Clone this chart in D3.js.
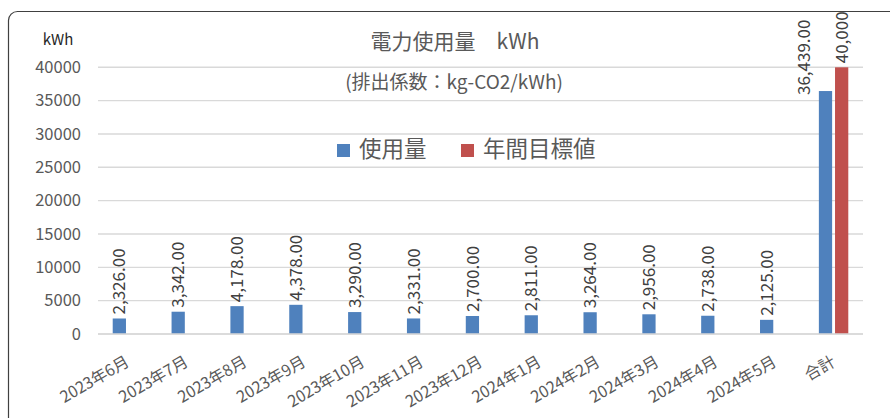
<!DOCTYPE html>
<html>
<head>
<meta charset="utf-8">
<script src="https://cdn.jsdelivr.net/npm/d3@7"></script>
<style>
  html, body { margin: 0; padding: 0; background: #fff; }
  svg { display: block; }
  text { font-family: "Noto Sans CJK JP", "Noto Sans", sans-serif; }
</style>
</head>
<body>
<script>
const categories = ["2023年6月", "2023年7月", "2023年8月", "2023年9月", "2023年10月", "2023年11月",
  "2023年12月", "2024年1月", "2024年2月", "2024年3月", "2024年4月", "2024年5月", "合計"];
const usage = [2326, 3342, 4178, 4378, 3290, 2331, 2700, 2811, 3264, 2956, 2738, 2125, 36439];
const target = [null, null, null, null, null, null, null, null, null, null, null, null, 40000];
const seriesNames = ["使用量", "年間目標値"];
const yTicks = [0, 5000, 10000, 15000, 20000, 25000, 30000, 35000, 40000];
const titleText = "電力使用量\u3000kWh";
const subtitleText = "(排出係数：kg-CO2/kWh)";
const unitText = "kWh";

const W = 890, H = 418;
const colors = ["#4f81bd", "#c0504d"];
const plot = { left: 98, right: 863, top: 67.3, bottom: 334 };
const FONT = "Noto Sans CJK JP, Noto Sans, sans-serif";

const svg = d3.select("body").append("svg").attr("width", W).attr("height", H);

// outer frame
svg.append("rect")
  .attr("x", 8.5).attr("y", 11.5).attr("width", 900).attr("height", 430)
  .attr("rx", 9).attr("ry", 9)
  .attr("fill", "#fff").attr("stroke", "#404040").attr("stroke-width", 1.2);

const x0 = d3.scaleBand().domain(categories).range([plot.left, plot.right])
  .paddingInner(0.5).paddingOuter(0.25);
const x1 = d3.scaleBand().domain([0, 1]).range([0, x0.bandwidth()]).paddingInner(0.18);
const y = d3.scaleLinear().domain([0, 40000]).range([plot.bottom, plot.top]);

// gridlines
svg.append("g").selectAll("line").data(yTicks).join("line")
  .attr("x1", plot.left).attr("x2", plot.right)
  .attr("y1", d => y(d)).attr("y2", d => y(d))
  .attr("stroke", "#d9d9d9").attr("stroke-width", 1.4);

// y axis labels
const yAxis = d3.axisLeft(y).tickValues(yTicks).tickFormat(d3.format("d")).tickSize(0).tickPadding(0);
const yg = svg.append("g").attr("transform", `translate(81,0)`).call(yAxis);
yg.select(".domain").remove();
yg.selectAll("text").attr("fill", "#595959").attr("font-size", 16.5).attr("font-family", FONT);

// x axis labels
const xAxis = d3.axisBottom(x0).tickSize(0).tickPadding(0);
const xg = svg.append("g").attr("transform", `translate(0,${plot.bottom})`).call(xAxis);
xg.select(".domain").remove();
xg.selectAll(".tick text")
  .attr("fill", "#595959").attr("font-size", 16).attr("font-family", FONT)
  .attr("text-anchor", "end")
  .attr("dy", null).attr("y", 0)
  .attr("transform", "translate(3,31) rotate(-30)");

// bars
const data = categories.map((c, i) => ({ c, vals: [usage[i], target[i]] }));
const groups = svg.append("g").selectAll("g").data(data).join("g")
  .attr("transform", d => `translate(${x0(d.c)},0)`);

groups.selectAll("rect")
  .data(d => d.vals.map((v, k) => ({ v, k })).filter(e => e.v != null))
  .join("rect")
  .attr("x", e => x1(e.k)).attr("width", x1.bandwidth())
  .attr("y", e => y(e.v)).attr("height", e => y(0) - y(e.v))
  .attr("fill", e => colors[e.k]);

// data labels: above each bar; when both series have a bar in a group,
// the first series' label is moved beside its bar to avoid crowding
const fmtUsage = d3.format(",.2f"), fmtTarget = d3.format(",");
groups.selectAll("text.lab")
  .data(d => {
    const both = d.vals.every(v => v != null);
    return d.vals.map((v, k) => ({ v, k, both })).filter(e => e.v != null);
  })
  .join("text").attr("class", "lab")
  .attr("dy", "0.36em")
  .attr("fill", "#404040").attr("font-size", 17)
  .text(e => e.k === 0 ? fmtUsage(e.v) : fmtTarget(e.v))
  .attr("transform", e => {
    let cx = x1(e.k) + x1.bandwidth() / 2;
    let by = y(e.v) - 4;
    if (e.both && e.k === 0) {
      cx = x1(e.k) - 15;
      by = y(e.v) + 4;
    }
    return `translate(${cx},${by}) rotate(-90)`;
  });

// baseline
svg.append("line").attr("x1", plot.left).attr("x2", plot.right)
  .attr("y1", y(0)).attr("y2", y(0)).attr("stroke", "#d9d9d9").attr("stroke-width", 1.4);

// title, subtitle, unit
svg.append("text").attr("x", 455).attr("y", 49).attr("text-anchor", "middle")
  .attr("fill", "#595959").attr("font-size", 21).text(titleText);
svg.append("text").attr("x", 454).attr("y", 89).attr("text-anchor", "middle")
  .attr("fill", "#595959").attr("font-size", 19).text(subtitleText);
svg.append("text").attr("x", 58).attr("y", 45).attr("text-anchor", "middle")
  .attr("fill", "#262626").attr("font-size", 15).text(unitText);

// legend
const legendItems = [
  { name: seriesNames[0], color: colors[0], sx: 337, tx: 359 },
  { name: seriesNames[1], color: colors[1], sx: 461, tx: 483 }
];
const lg = svg.append("g");
lg.selectAll("rect").data(legendItems).join("rect")
  .attr("x", d => d.sx).attr("y", 144).attr("width", 13).attr("height", 13)
  .attr("fill", d => d.color);
lg.selectAll("text").data(legendItems).join("text")
  .attr("x", d => d.tx).attr("y", 157)
  .attr("fill", "#595959").attr("font-size", 22.5).text(d => d.name);
</script>
</body>
</html>
